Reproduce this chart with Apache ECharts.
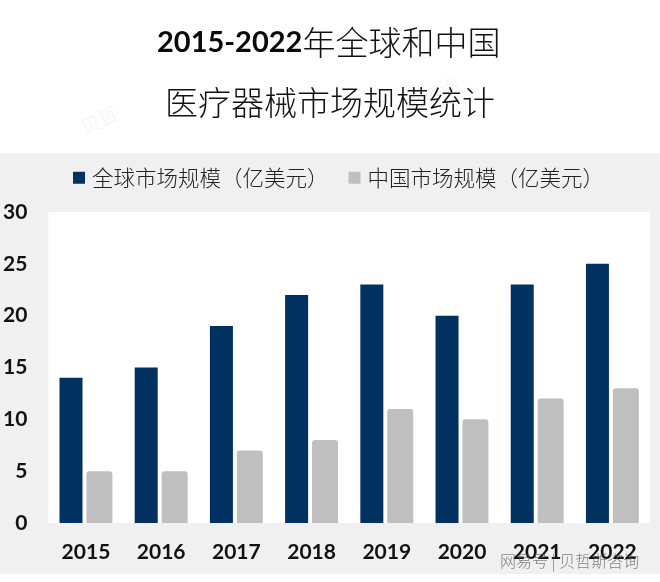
<!DOCTYPE html>
<html><head><meta charset="utf-8">
<style>html,body{margin:0;padding:0;background:#fff}#c{width:660px;height:582px}</style>
<script src="https://cdn.jsdelivr.net/npm/echarts@6/dist/echarts.min.js"></script>
</head><body><div id="c"></div>
<script>
const years = ['2015','2016','2017','2018','2019','2020','2021','2022'];
const globalMarket = [14,15,19,22,23,20,23,25];
const chinaMarket = [5,5,7,8,11,10,12,13];
const globalName = '全球市场规模（亿美元）';
const chinaName = '中国市场规模（亿美元）';
const cjk = '"Noto Sans CJK SC"';
const latin = 'Lato';
const chart = echarts.init(document.getElementById('c'));
chart.setOption({
  animation:false,
  backgroundColor:'#fff',
  graphic:[
    {type:'rect',z:-10,silent:true,shape:{x:0,y:153,width:660,height:421},style:{fill:'#f0f0f0'}},
    {type:'text',z:-5,silent:true,x:78,y:120,rotation:0.45,style:{text:'贝哲',fill:'rgba(120,120,120,0.10)',font:'300 19px '+cjk}},
    {type:'text',z:-5,silent:true,x:402,y:98,rotation:0.45,style:{text:'斯咨询',fill:'rgba(120,120,120,0.10)',font:'300 19px '+cjk}},
    {type:'text',z:5,silent:true,left:500,top:553,style:{text:'网易号 | 贝哲斯咨询',fill:'rgba(90,90,90,0.75)',font:'300 16px '+cjk}}
  ],
  title:[
    {left:152,top:21,itemGap:0,text:'{a|2015-2022}{b|年全球和中国}',
     textStyle:{rich:{a:{fontFamily:latin,fontWeight:'bold',fontSize:29,color:'#0a0a0a'},b:{fontFamily:cjk,fontWeight:300,fontSize:33,color:'#111'}}}},
    {left:'center',top:81,text:'医疗器械市场规模统计',
     textStyle:{fontFamily:cjk,fontWeight:300,fontSize:33,color:'#111'}}
  ],
  legend:{top:162,left:68,itemWidth:12,itemHeight:12,itemGap:20,icon:'rect',
    textStyle:{fontFamily:cjk,fontWeight:300,fontSize:21.5,color:'#222',padding:[0,0,0,2]},
    data:[globalName,chinaName]},
  grid:{left:47,top:212,width:603,height:311,show:true,backgroundColor:'#fff',borderWidth:0},
  xAxis:{type:'category',data:years,axisLine:{show:false},axisTick:{show:false},
    axisLabel:{fontFamily:latin,fontWeight:'bold',fontSize:21,color:'#111',margin:19}},
  yAxis:{type:'value',min:0,max:30,interval:5,splitLine:{show:false},axisLine:{show:false},axisTick:{show:false},
    axisLabel:{fontFamily:latin,fontWeight:'bold',fontSize:21,color:'#111',margin:21}},
  series:[
    {name:globalName,type:'bar',data:globalMarket,barWidth:23,barGap:'17%',itemStyle:{color:'#003160'}},
    {name:chinaName,type:'bar',data:chinaMarket,barWidth:26,itemStyle:{color:'#bfbfbf',borderRadius:[3,3,0,0]}}
  ]
});
</script></body></html>
